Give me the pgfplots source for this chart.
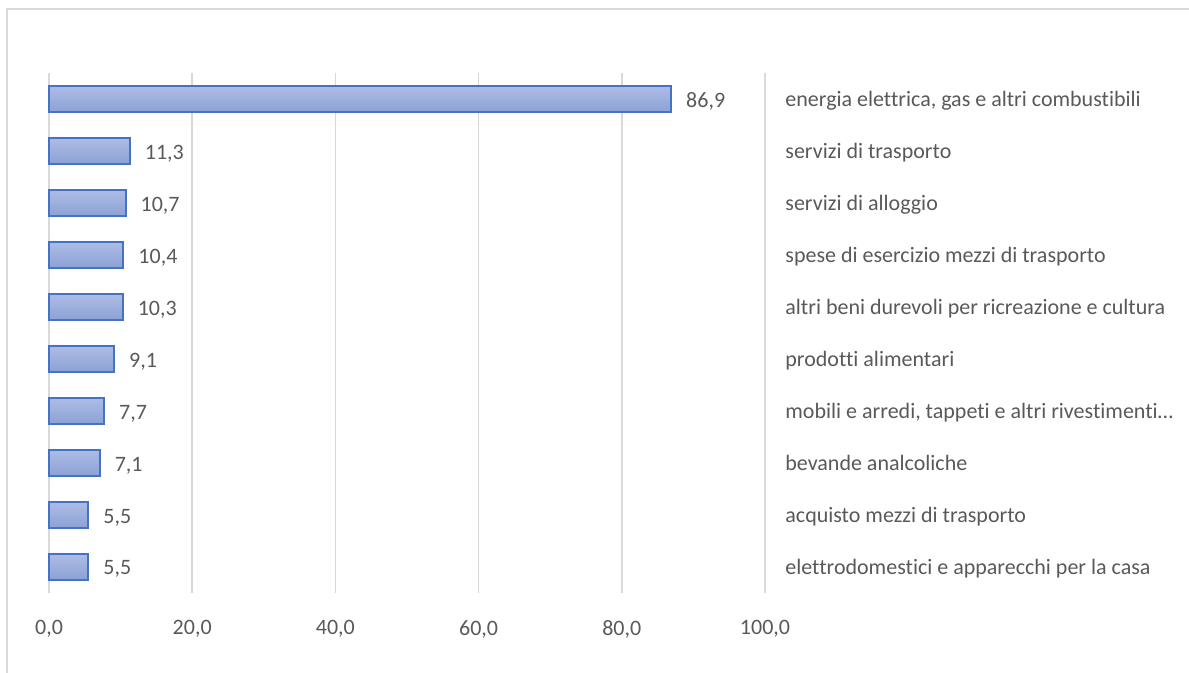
\documentclass[border=0pt]{standalone}
\usepackage{pgfplots}
\usepackage{pgfplotstable}
\pgfplotsset{compat=1.18}
\usepackage{fontspec}
\setmainfont{Carlito}[Ligatures=NoCommon]

\definecolor{gridgray}{RGB}{217,217,217}
\definecolor{framegray}{RGB}{217,217,217}
\definecolor{labelgray}{RGB}{89,89,89}
\definecolor{barline}{RGB}{68,114,196}
\definecolor{bartop}{RGB}{174,188,228}
\definecolor{barbottom}{RGB}{139,161,214}

% rank (0 = top) and value
\pgfplotstableread{
rank value
0 86.9
1 11.3
2 10.7
3 10.4
4 10.3
5 9.1
6 7.7
7 7.1
8 5.5
9 5.5
}\spesa

\begin{document}
\begin{tikzpicture}[x=1pt,y=1pt]
  % canvas
  \useasboundingbox (0,0) rectangle (594.5,336.5);
  % chart frame
  \draw[framegray, line width=1pt] (3.3,0) -- (3.3,332) -- (594.5,332);

  \begin{axis}[
    at={(24.5pt,40pt)}, anchor=south west,
    scale only axis,
    width=358pt, height=260pt,
    xmin=0, xmax=100,
    ymin=-0.5, ymax=9.5,
    y dir=reverse,
    xbar, bar shift=0pt,
    bar width=13pt,
    axis line style={draw=none},
    major tick length=0pt,
    xtick={0,20,40,60,80,100},
    xmajorgrids,
    grid style={gridgray, line width=0.8pt},
    ytick={0,...,9},
    yticklabels={
      energia elettrica{,} gas e altri combustibili,
      servizi di trasporto,
      servizi di alloggio,
      spese di esercizio mezzi di trasporto,
      altri beni durevoli per ricreazione e cultura,
      prodotti alimentari,
      {mobili e arredi, tappeti e altri rivestimenti\ldots},
      bevande analcoliche,
      acquisto mezzi di trasporto,
      elettrodomestici e apparecchi per la casa},
    yticklabel pos=right,
    yticklabel style={anchor=base west, inner sep=0pt, xshift=10pt, yshift=-3.7pt,
      font=\fontsize{11}{13}\selectfont, text=labelgray},
    xticklabel style={anchor=north, inner sep=0pt, yshift=-13.5pt,
      font=\fontsize{11}{13}\selectfont, text=labelgray},
    /pgf/number format/.cd, use comma, fixed, fixed zerofill, precision=1,
      assume math mode=true, 1000 sep={},
    /pgfplots/.cd,
    xticklabel={\pgfmathprintnumber{\tick}},
    nodes near coords,
    nodes near coords style={anchor=base west, inner sep=0pt, xshift=7pt, yshift=-4pt,
      font=\fontsize{11}{13}\selectfont, text=labelgray},
    clip=false,
  ]
    % one plot per bar, so each bar carries its own vertical gradient
    \pgfplotsinvokeforeach{0,...,9}{
      \addplot[draw=barline, line width=1pt, top color=bartop, bottom color=barbottom]
        table[x=value, y=rank, restrict y to domain=#1:#1] {\spesa};
    }
  \end{axis}
\end{tikzpicture}
\end{document}
